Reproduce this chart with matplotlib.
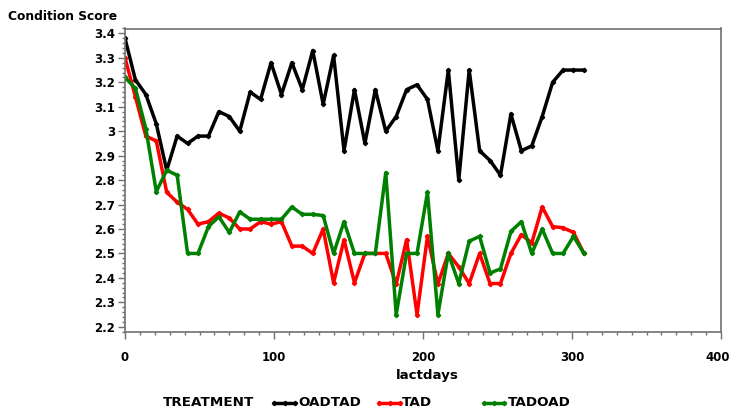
import matplotlib
matplotlib.use("Agg")
import matplotlib.pyplot as plt
import matplotlib.transforms as mtransforms
from matplotlib.lines import Line2D
from matplotlib.ticker import MultipleLocator

plt.rcParams['font.family'] = ['DejaVu Sans']

lactdays = list(range(0, 309, 7))

oadtad = [3.38, 3.21, 3.15, 3.03, 2.84, 2.98, 2.95, 2.98, 2.98, 3.08,
          3.06, 3.00, 3.16, 3.13, 3.28, 3.15, 3.28, 3.17, 3.33, 3.11,
          3.31, 2.92, 3.17, 2.95, 3.17, 3.00, 3.06, 3.17, 3.19, 3.13,
          2.92, 3.25, 2.80, 3.25, 2.92, 2.88, 2.82, 3.07, 2.92, 2.94,
          3.06, 3.20, 3.25, 3.25, 3.25]

tad = [3.30, 3.14, 2.98, 2.96, 2.75, 2.71, 2.68, 2.62, 2.63, 2.665,
       2.645, 2.60, 2.60, 2.63, 2.62, 2.63, 2.53, 2.53, 2.50, 2.60,
       2.38, 2.556, 2.38, 2.50, 2.50, 2.50, 2.375, 2.556, 2.25, 2.57,
       2.375, 2.50, 2.445, 2.377, 2.50, 2.377, 2.377, 2.50, 2.577, 2.543,
       2.69, 2.61, 2.605, 2.586, 2.50]

tadoad = [3.22, 3.175, 3.01, 2.753, 2.84, 2.82, 2.50, 2.50, 2.61, 2.65,
          2.586, 2.67, 2.64, 2.64, 2.64, 2.64, 2.69, 2.66, 2.66, 2.655,
          2.50, 2.63, 2.50, 2.50, 2.50, 2.83, 2.25, 2.50, 2.50, 2.75,
          2.25, 2.50, 2.377, 2.55, 2.57, 2.42, 2.437, 2.59, 2.63, 2.50,
          2.60, 2.50, 2.50, 2.57, 2.50]

series_names = ["OADTAD", "TAD", "TADOAD"]
series_colors = ["#000000", "#ff0000", "#008000"]

y_ticks = [2.2, 2.3, 2.4, 2.5, 2.6, 2.7, 2.8, 2.9, 3.0, 3.1, 3.2, 3.3, 3.4]
y_labels = ["2.2", "2.3", "2.4", "2.5", "2.6", "2.7", "2.8", "2.9", "3",
            "3.1", "3.2", "3.3", "3.4"]
x_ticks = [0, 100, 200, 300, 400]
x_labels = ["0", "100", "200", "300", "400"]

W, H = 731, 409
fig = plt.figure(figsize=(W / 100, H / 100), dpi=100)
ax = fig.add_axes([125 / W, 1 - 331.7 / H, (721 - 125) / W, (331.7 - 28.5) / H])

spine_c = "#707070"
for data, col in zip([oadtad, tad, tadoad], series_colors):
    ax.plot(lactdays, data, color=col, lw=2.5, marker="D", ms=2.2,
            mec=col, mfc=col, solid_joinstyle="round")

ax.set_xlim(0, 400)
ax.set_ylim(2.18, 3.42)
ax.set_xticks(x_ticks)
ax.set_xticklabels(x_labels, fontweight="bold", fontsize=8.5)
ax.set_yticks(y_ticks)
ax.set_yticklabels(y_labels, fontweight="bold", fontsize=8.5)
ax.xaxis.set_minor_locator(MultipleLocator(10))
ax.yaxis.set_minor_locator(MultipleLocator(0.02))
ax.tick_params(axis="both", which="major", direction="out", length=5,
               color=spine_c, width=1)
ax.tick_params(axis="both", which="minor", direction="out", length=2.5,
               color=spine_c, width=1)
ax.tick_params(axis="x", which="major", pad=9)
ax.tick_params(axis="y", which="major", pad=2)
for s in ax.spines.values():
    s.set_color(spine_c)
    s.set_linewidth(1.2)

# keep the last x tick label inside the canvas
last = ax.get_xticklabels()[-1]
last.set_transform(last.get_transform() +
                   mtransforms.ScaledTranslation(-3 / 100, 0, fig.dpi_scale_trans))

fig.text(8 / W, 1 - 16 / H, "Condition Score", fontweight="bold",
         fontsize=8.8, ha="left", va="center")
fig.text(427 / W, 1 - 376 / H, "lactdays", fontweight="bold",
         fontsize=9.6, ha="center", va="center")

# legend
ly = 1 - 403 / H
fig.text(163 / W, ly, "TREATMENT", fontweight="bold", fontsize=9.7,
         ha="left", va="center")
leg_pos = [(274, 295, 298), (379, 400, 402), (484, 504, 508)]
for (x0, x1, xt), name, col in zip(leg_pos, series_names, series_colors):
    fig.add_artist(Line2D([x0 / W, (x0 + x1) / 2 / W, x1 / W], [ly, ly, ly],
                          transform=fig.transFigure, color=col, lw=2.5,
                          marker="D", ms=2.2, mec=col, mfc=col))
    fig.text(xt / W, ly, name, fontweight="bold", fontsize=9.7,
             ha="left", va="center")

fig.savefig("out.png", dpi=100)
